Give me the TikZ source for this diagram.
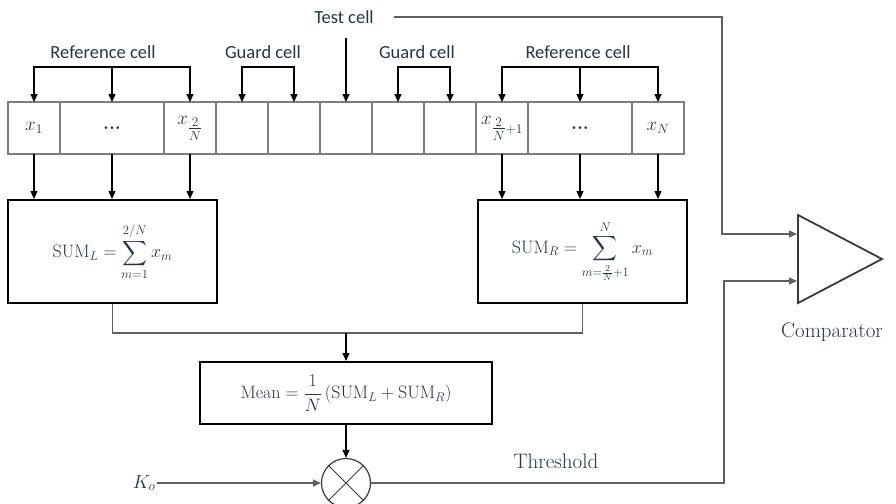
\RequirePackage{fix-cm}
\documentclass[tikz,border=0pt]{standalone}
\usepackage{amsmath}
\usepackage{exscale}
\usepackage{fontspec}
\newfontfamily\labelfont{Carlito}
\usetikzlibrary{positioning,arrows.meta}
\definecolor{txt}{RGB}{38,52,74}
\definecolor{wire}{RGB}{95,95,95}
\definecolor{cellline}{RGB}{125,125,125}
\definecolor{comp}{RGB}{50,60,66}

\begin{document}
\begin{tikzpicture}[x=1pt, y=-1pt,
    cell/.style={draw=cellline, line width=1.2pt, minimum width=52pt, minimum height=52pt, inner sep=0pt, outer sep=0pt, text=txt, font=\fontsize{19}{21}\selectfont},
    wide/.style={cell, minimum width=104pt},
    sumbox/.style={draw=black, line width=2pt, minimum width=209pt, minimum height=103pt, text=txt, font=\fontsize{18}{20}\selectfont},
    lab/.style={text=txt, font=\labelfont\fontsize{18.5}{20}\selectfont},
    serif/.style={text=txt, font=\fontsize{21}{24}\selectfont},
    wire/.style={draw=wire, line width=1.3pt},
    line width=1.2pt,
    >={Triangle[length=8pt,width=7pt]}
]
\useasboundingbox (0,0) rectangle (896,503);

% Cell row
\node[cell] (c1) at (34,128) {$x_1$};
\node[wide, right=0pt of c1] (c2) {\textbf{...}};
\node[cell, right=0pt of c2] (c3) {$x_{\tfrac{2}{N}}$};
\node[cell, right=0pt of c3] (c4) {};
\node[cell, right=0pt of c4] (c5) {};
\node[cell, right=0pt of c5] (c6) {};
\node[cell, right=0pt of c6] (c7) {};
\node[cell, right=0pt of c7] (c8) {};
\node[cell, right=0pt of c8] (c9) {$x_{\tfrac{2}{N}+1}$};
\node[wide, right=0pt of c9] (c10) {\textbf{...}};
\node[cell, right=0pt of c10] (c11) {$x_N$};

% Labels over the row
\coordinate (top) at (0,67);
\node[lab] (refl) at (103,52) {Reference cell};
\node[lab] (gdl) at (263,52) {Guard cell};
\node[lab] (tcl) at (344,17) {Test cell};
\node[lab] (gdr) at (417,52) {Guard cell};
\node[lab] (refr) at (578,52) {Reference cell};

% Brackets
\draw[<->] (c1.north) |- (c2.north |- top) -| (c3.north);
\draw[->] (c2.north |- top) -- (c2.north);
\draw[<->] (c4.north) |- (c5.north |- top) -- (c5.north);
\draw[<->] (c7.north) |- (c8.north |- top) -- (c8.north);
\draw[<->] (c9.north) |- (c10.north |- top) -| (c11.north);
\draw[->] (c10.north |- top) -- (c10.north);
\coordinate (tctop) at (346,38);
\draw[->] (tctop) -- (c6.north);

% Sum boxes
\node[sumbox] (sumL) at (112.5,251.5) {$\mathrm{SUM}_L = \displaystyle\sum_{m=1}^{2/N} x_m$};
\node[sumbox] (sumR) at (582.5,251.5) {$\mathrm{SUM}_R = \displaystyle\sum_{m=\frac{2}{N}+1}^{N} x_m$};

\foreach \c in {c1,c2,c3}
    \draw[->] (\c.south) -- (\c.south |- sumL.north);
\foreach \c in {c9,c10,c11}
    \draw[->] (\c.south) -- (\c.south |- sumR.north);

% Mean
\node[sumbox, minimum width=292pt, minimum height=62pt] (mean) at (346,393) {$\mathrm{Mean} = \dfrac{1}{N}\left(\mathrm{SUM}_L + \mathrm{SUM}_R\right)$};
\coordinate (join) at (346,333);
\draw[wire] (sumL.south) |- (join) -| (sumR.south);
\draw[->] (join) -- (mean.north);

% Multiplier
\node[circle, draw=comp, line width=1.2pt, minimum size=49pt, inner sep=0pt] (mult) at (346,483) {};
\draw[comp, line width=1pt] (mult.north west) -- (mult.south east);
\draw[comp, line width=1pt] (mult.north east) -- (mult.south west);
\draw[->] (mean.south) -- (mult.north);
\node[text=txt, font=\fontsize{19}{21}\selectfont, anchor=east, inner sep=1pt] (ko) at (157,483) {$K_o$};
\draw[wire, ->] (ko.east) -- (mult.west);

% Comparator
\coordinate (cA) at (798,215);
\coordinate (cB) at (882,259);
\coordinate (cC) at (798,303);
\draw[comp, line width=1.8pt, line join=miter] (cA) -- (cB) -- (cC) -- cycle;
\coordinate (in1) at (797,234);
\coordinate (in2) at (797,281);
\node[serif] (cmpl) at (832,332) {Comparator};

% Test cell and threshold wires
\coordinate (tbend) at (722,234);
\draw[wire, ->] ([xshift=16pt]tcl.east) -| (tbend) -- (in1);
\node[serif] (thr) at (556,461) {Threshold};
\coordinate (hbend) at (724,281);
\draw[wire, ->] (mult.east) -| (hbend) -- (in2);

\end{tikzpicture}
\end{document}
